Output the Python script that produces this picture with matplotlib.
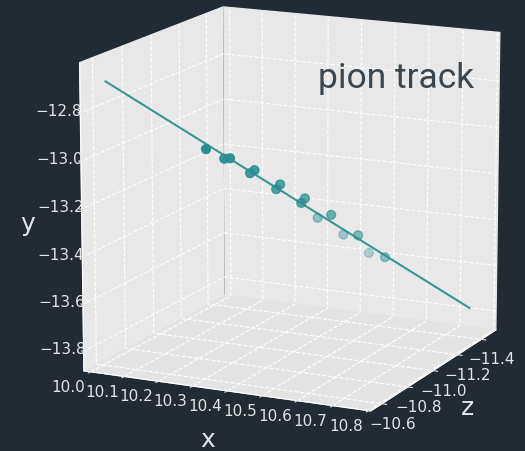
import numpy as np
import matplotlib
matplotlib.use("Agg")
import matplotlib.pyplot as plt

# hit positions (x, depth axis labelled z, vertical axis labelled y)
hit_x = [10.199, 10.239, 10.252, 10.296, 10.306, 10.354, 10.363, 10.410,
         10.418, 10.423, 10.477, 10.481, 10.537, 10.539, 10.598]
hit_z = [-10.863, -10.896, -10.906, -10.942, -10.950, -10.989, -10.996, -11.034,
         -11.041, -11.125, -11.088, -11.172, -11.138, -11.219, -11.187]
hit_y = [-13.009, -13.052, -13.051, -13.117, -13.105, -13.189, -13.169, -13.251,
         -13.232, -13.339, -13.306, -13.415, -13.398, -13.498, -13.496]

# fitted track end points
fit_x = [9.98, 10.79]
fit_z = [-10.685, -11.343]
fit_y = [-12.712, -13.730]

x_ticks = [10.0, 10.1, 10.2, 10.3, 10.4, 10.5, 10.6, 10.7, 10.8]
z_ticks = [-10.6, -10.8, -11.0, -11.2, -11.4]
y_ticks = [-13.8, -13.6, -13.4, -13.2, -13.0, -12.8]

bg = '#222b33'
fg = '#e2e4e6'
teal = '#288e91'

plt.rcParams['grid.color'] = 'white'
plt.rcParams['grid.linestyle'] = '--'
plt.rcParams['grid.linewidth'] = 0.8
plt.rcParams['xtick.color'] = fg
plt.rcParams['ytick.color'] = fg
plt.rcParams['axes.labelcolor'] = fg
plt.rcParams['axes.edgecolor'] = 'white'

fig = plt.figure(figsize=(5.25, 4.52), dpi=100, facecolor=bg)
ax = fig.add_axes([-0.1245, -0.2394, 1.332, 1.547], projection='3d')
ax.set_facecolor(bg)
ax.set_box_aspect((1, 1, 1), zoom=0.75)
ax.view_init(elev=14, azim=-64.5)

ax.scatter(hit_x, hit_z, hit_y, s=40, color=teal, depthshade=True)
ax.plot(fit_x, fit_z, fit_y, color='#3a9596', lw=1.5)

ax.set_xlim(9.98, 10.806)
ax.set_ylim(-10.516, -11.526)
ax.set_zlim(-13.883, -12.593)
ax.set_xticks(x_ticks)
ax.set_yticks(z_ticks)
ax.set_zticks(y_ticks)
ax.zaxis.set_ticks_position('upper')
ax.zaxis.set_label_position('upper')

for a in (ax.xaxis, ax.yaxis, ax.zaxis):
    a.set_pane_color((0.91, 0.91, 0.91, 1.0))
    a.line.set_color('white')
    a._axinfo['tick']['color'] = fg
ax.zaxis.set_pane_color((0.89, 0.89, 0.89, 1.0))
ax.tick_params(labelsize=11, colors=fg)
ax.tick_params(axis='x', pad=2)
ax.tick_params(axis='y', pad=1.5)
ax.tick_params(axis='z', pad=5)
for lab in ax.get_xticklabels():
    lab.set_ha('right')
    lab.set_va('center')
for lab in ax.get_zticklabels():
    lab.set_va('baseline')

ax.set_xlabel('x', fontsize=18, color=fg, labelpad=11)
ax.set_ylabel('z', fontsize=18, color=fg, labelpad=8)
ax.set_zlabel('y', fontsize=18, color=fg, labelpad=12)

fig.text(474 / 525, 1 - 88 / 452, 'pion track', ha='right', va='baseline',
         fontsize=25.5, family='Roboto', weight='normal', color='#3b4750')

fig.savefig('out.png', dpi=100, facecolor=bg)
